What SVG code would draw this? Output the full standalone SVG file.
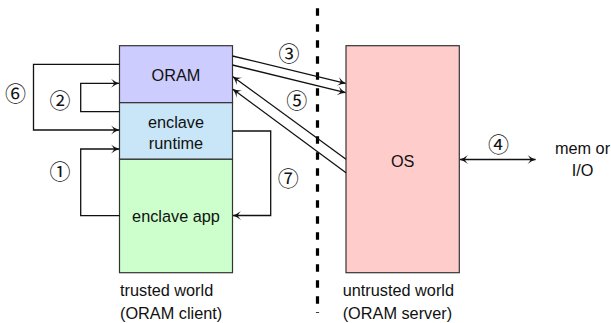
<svg xmlns="http://www.w3.org/2000/svg" width="611" height="323" viewBox="0 0 611 323">
<defs>
<style>
.box{stroke:#333;stroke-width:1.2}
.t{font-family:"Liberation Sans",Arial,sans-serif;font-size:16.3px;fill:#111;text-anchor:middle}
.tl{font-family:"Liberation Sans",Arial,sans-serif;font-size:16.3px;fill:#111}
.c{font-family:"Noto Sans CJK JP","DejaVu Sans",sans-serif;font-size:21px;fill:#111;text-anchor:middle}
.ln{fill:none;stroke:#111;stroke-width:1.3}
</style>
<marker id="ah" viewBox="-10 -6 12 12" refX="0" refY="0" markerWidth="12" markerHeight="12" markerUnits="userSpaceOnUse" orient="auto-start-reverse">
<path d="M0.5,0 Q-4,-1.2 -8,-4.5 Q-5,-1 -5,0 Q-5,1 -8,4.5 Q-4,1.2 0.5,0 Z" fill="#111"/>
</marker>
</defs>
<line x1="317.5" y1="8.3" x2="317.5" y2="313" stroke="#000" stroke-width="3.2" stroke-dasharray="7.5 8.5"/>
<g id="oram"><rect class="box" x="119.5" y="45.7" width="113" height="57" fill="#ccccff"/><text class="t" x="176" y="81">ORAM</text></g>
<g id="runtime"><rect class="box" x="119.5" y="102.7" width="113" height="56.6" fill="#c8e6f7"/><text class="t" x="176" y="127.5">enclave</text><text class="t" x="176" y="149">runtime</text></g>
<g id="app"><rect class="box" x="119.5" y="159.3" width="113" height="113.4" fill="#ccffcc"/><text class="t" x="176" y="221.5">enclave app</text></g>
<g id="os"><rect class="box" x="346" y="45.7" width="113.3" height="227" fill="#ffcccc"/><text class="t" x="402.7" y="167">OS</text></g>
<g id="memio"><text class="t" x="582.5" y="153.5">mem or</text><text class="t" x="582.5" y="175.5">I/O</text></g>
<g id="trusted"><text class="tl" x="120" y="296">trusted world</text><text class="tl" x="120" y="319">(ORAM client)</text></g>
<g id="untrusted"><text class="tl" x="342.7" y="296">untrusted world</text><text class="tl" x="342.7" y="319">(ORAM server)</text></g>
<g id="connectors">
<polyline class="ln" points="119.5,64.3 33.5,64.3 33.5,130 119,130" marker-end="url(#ah)"/>
<polyline class="ln" points="119.5,111.7 80.7,111.7 80.7,83.3 119,83.3" marker-end="url(#ah)"/>
<polyline class="ln" points="119.5,215.7 80.7,215.7 80.7,149 119,149" marker-end="url(#ah)"/>
<polyline class="ln" points="232.5,131 270.7,131 270.7,215.5 233,215.5" marker-end="url(#ah)"/>
<line class="ln" x1="232.5" y1="56" x2="345.5" y2="83.3" marker-end="url(#ah)"/>
<line class="ln" x1="232.5" y1="65" x2="345.5" y2="92.7" marker-end="url(#ah)"/>
<line class="ln" x1="346" y1="159.3" x2="233" y2="76.7" marker-end="url(#ah)"/>
<line class="ln" x1="346" y1="172.7" x2="233" y2="89.3" marker-end="url(#ah)"/>
<line class="ln" x1="460" y1="159.5" x2="535.5" y2="159.5" marker-start="url(#ah)" marker-end="url(#ah)"/>
</g>
<g id="labels">
<text class="c" x="15.5" y="101.3">⑥</text>
<text class="c" x="60" y="107.8">②</text>
<text class="c" x="60" y="178.8">①</text>
<text class="c" x="289" y="61.3">③</text>
<text class="c" x="296.7" y="107.8">⑤</text>
<text class="c" x="288.3" y="185.8">⑦</text>
<text class="c" x="498.5" y="151.8">④</text>
</g>
</svg>
